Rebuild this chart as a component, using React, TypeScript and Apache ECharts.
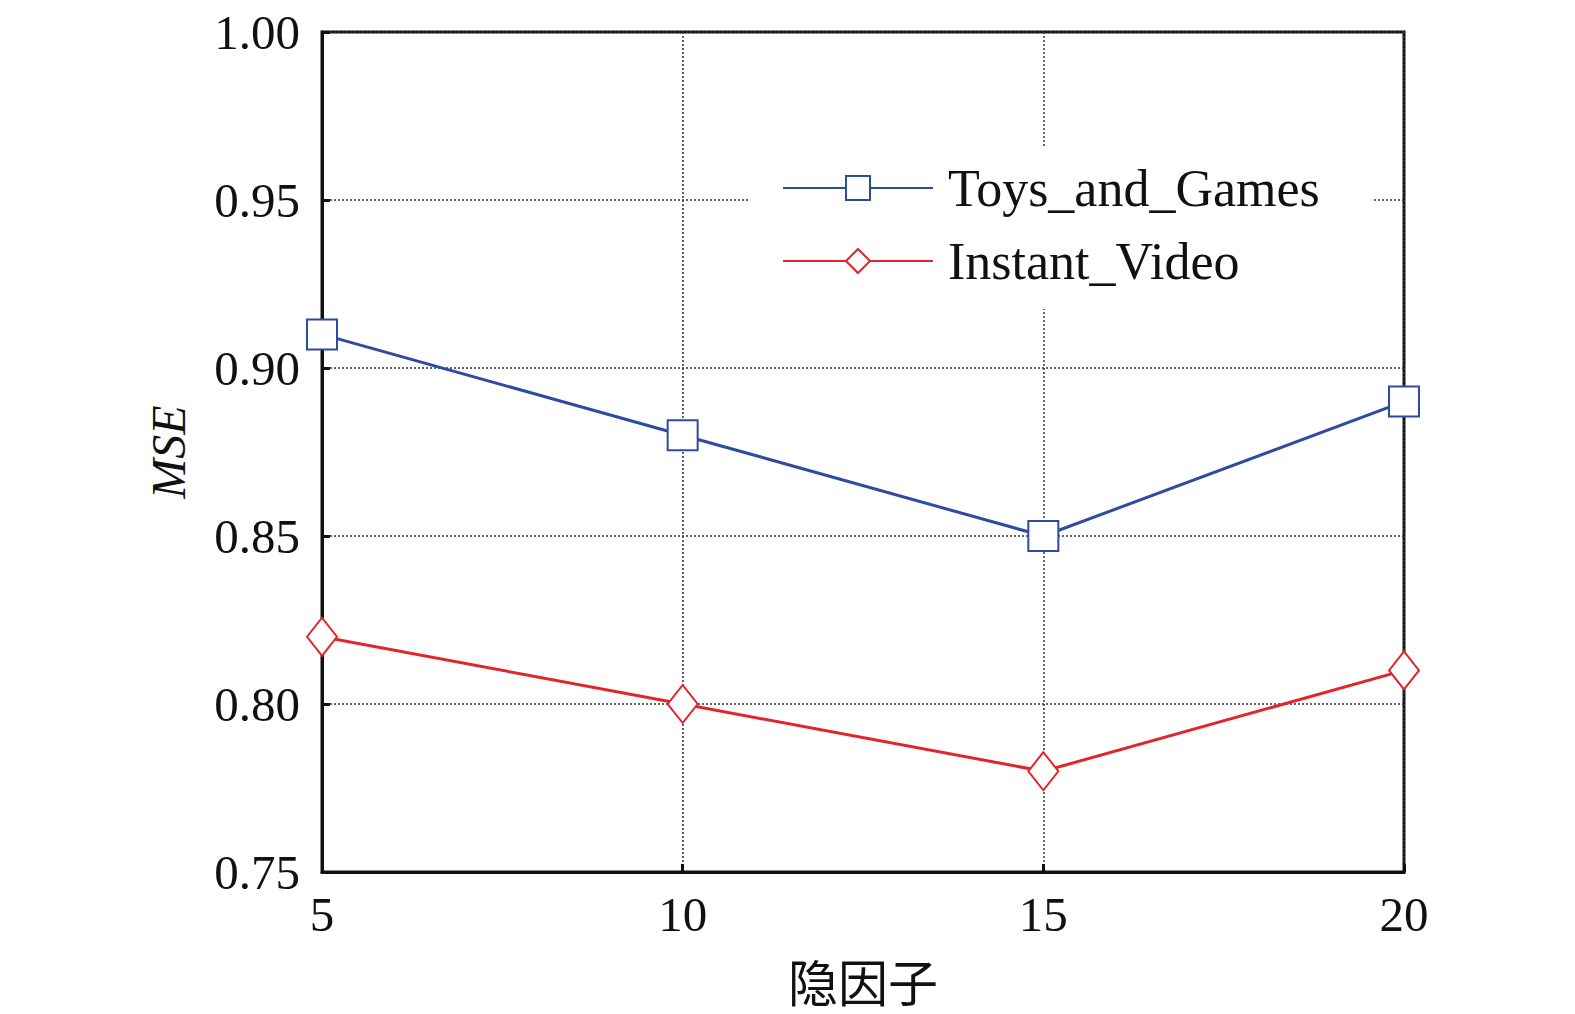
import React, { useEffect, useRef } from "react";
import * as echarts from "echarts";

const factors = [5, 10, 15, 20];
const toysGames = [0.91, 0.88, 0.85, 0.89];
const instantVideo = [0.82, 0.8, 0.78, 0.81];
const seriesNames = ["Toys_and_Games", "Instant_Video"];

const SERIF = "'Liberation Serif', 'Times New Roman', 'Noto Sans CJK SC', serif";
const BLUE = "#2f4b9f";
const RED = "#e0262c";

export default function App() {
  const ref = useRef<HTMLDivElement>(null);
  useEffect(() => {
    document.body.style.margin = "0";
    document.body.style.overflow = "hidden";
    document.documentElement.style.overflow = "hidden";
    const chart = echarts.init(ref.current!, null, { renderer: "svg" });
    const axisCommon = {
      axisLine: { show: true, lineStyle: { color: "#111", width: 3 } },
      axisTick: { show: true, inside: true, length: 8, lineStyle: { color: "#111", width: 3 } },
      splitLine: { show: true, lineStyle: { color: "#333", width: 1.5, type: [2, 2] } },
      axisLabel: { color: "#111", fontFamily: SERIF, fontSize: 49 },
    };
    chart.setOption({
      animation: false,
      backgroundColor: "#fff",
      grid: {
        left: 322,
        top: 32,
        right: 171,
        bottom: 142,
        show: true,
        borderColor: "#111",
        borderWidth: 3,
        containLabel: false,
        outerBoundsMode: "none",
      },
      legend: {
        left: 750,
        top: 146,
        orient: "vertical",
        backgroundColor: "#fff",
        padding: [16, 52, 22, 32],
        itemGap: 21,
        itemWidth: 150,
        itemHeight: 30,
        textStyle: { fontFamily: SERIF, fontSize: 52, color: "#111", lineHeight: 50, padding: [0, 0, 0, 10] },
        data: seriesNames,
      },
      xAxis: {
        type: "value",
        min: 5,
        max: 20,
        interval: 5,
        name: "隐因子",
        nameLocation: "middle",
        nameGap: 88,
        nameTextStyle: { fontFamily: SERIF, fontSize: 50, color: "#111" },
        ...axisCommon,
        axisLabel: { ...axisCommon.axisLabel, margin: 18 },
      },
      yAxis: {
        type: "value",
        min: 0.75,
        max: 1.0,
        interval: 0.05,
        name: "MSE",
        nameLocation: "middle",
        nameGap: 130,
        nameTextStyle: { fontFamily: SERIF, fontSize: 48, color: "#111", fontStyle: "italic" },
        ...axisCommon,
        axisLabel: { ...axisCommon.axisLabel, margin: 22, formatter: (v: number) => v.toFixed(2) },
      },
      series: [
        {
          name: seriesNames[0],
          type: "line",
          data: factors.map((f, i) => [f, toysGames[i]]),
          symbol: "emptyRect",
          symbolSize: 30,
          lineStyle: { color: BLUE, width: 3 },
          itemStyle: { color: BLUE, borderWidth: 3 },
          clip: false,
        },
        {
          name: seriesNames[1],
          type: "line",
          data: factors.map((f, i) => [f, instantVideo[i]]),
          symbol: "emptyDiamond",
          symbolSize: [30, 38],
          lineStyle: { color: RED, width: 3 },
          itemStyle: { color: RED, borderWidth: 3 },
          clip: false,
        },
      ],
    });
    return () => chart.dispose();
  }, []);
  return <div ref={ref} style={{ width: 1575, height: 1014 }} />;
}
